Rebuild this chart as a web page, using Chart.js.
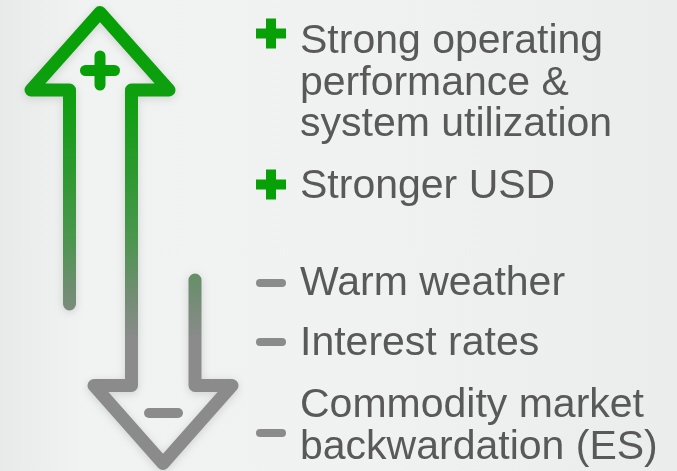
<!DOCTYPE html>
<html>
<head>
<meta charset="utf-8">
<style>
  html, body {
    margin: 0;
    padding: 0;
    width: 677px;
    height: 471px;
    overflow: hidden;
  }
  body {
    background: linear-gradient(90deg, #e8e9e9 0%, #f1f2f2 12%, #f0f1f1 55%, #ebecec 100%);
  }
  #chart-container {
    position: relative;
    width: 677px;
    height: 471px;
  }
</style>
</head>
<body>
<div id="chart-container">
  <canvas id="myChart" width="677" height="471"></canvas>
</div>

<script src="https://cdn.jsdelivr.net/npm/chart.js"></script>
<script>
  // drivers, each one is a list of text lines
  const positives = [
    ['Strong operating', 'performance &', 'system utilization'],
    ['Stronger USD']
  ];
  const negatives = [
    ['Warm weather'],
    ['Interest rates'],
    ['Commodity market', 'backwardation (ES)']
  ];

  // the double arrow, drawn as one polyline (up arrow -> down arrow)
  const arrowX = [69.5, 69.5, 31, 100, 169, 131.5, 131.5, 94, 163, 232, 195, 195];
  const arrowY = [304, 90, 90, 12.5, 90, 90, 385.5, 385.5, 463.5, 385.5, 385.5, 280];

  // layout of the text column
  const textX = 300;
  const markX = 271;
  const posBaselines = [53, 198];
  const negBaselines = [295, 355, 417];
  const posMarks = [33.5, 184.5];
  const negMarks = [283, 342, 433];
  const lineHeight = 41.5;

  const green = '#07a007';
  const gray = '#8b8b8b';
  const textColor = '#595959';

  function pts(xs, ys) {
    return xs.map((x, i) => ({ x: x, y: ys[i] }));
  }

  function segment(x1, y1, x2, y2, color, width, cap) {
    return {
      data: [{ x: x1, y: y1 }, { x: x2, y: y2 }],
      showLine: true,
      borderColor: color,
      borderWidth: width,
      borderCapStyle: cap || 'round',
      pointRadius: 0
    };
  }

  let arrowGradient = null;
  function arrowColor(context) {
    const chart = context.chart;
    if (!chart.chartArea) return gray;
    if (arrowGradient) return arrowGradient;
    const y = chart.scales.y;
    const top = y.getPixelForValue(0);
    const bottom = y.getPixelForValue(471);
    const g = chart.ctx.createLinearGradient(0, top, 0, bottom);
    const stop = v => (y.getPixelForValue(v) - top) / (bottom - top);
    g.addColorStop(0, '#04a004');
    g.addColorStop(stop(100), '#0f9f10');
    g.addColorStop(stop(170), '#2b992e');
    g.addColorStop(stop(240), '#4c964f');
    g.addColorStop(stop(290), '#6f8d71');
    g.addColorStop(stop(340), gray);
    g.addColorStop(1, gray);
    arrowGradient = g;
    return g;
  }

  const datasets = [];
  datasets.push({
    data: pts(arrowX, arrowY),
    showLine: true,
    borderColor: arrowColor,
    borderWidth: 13,
    borderJoinStyle: 'round',
    borderCapStyle: 'round',
    pointRadius: 0,
    tension: 0,
    shadow: true
  });
  // plus inside the up arrow, minus inside the down arrow
  datasets.push(segment(85.5, 70.5, 114.5, 70.5, green, 11));
  datasets.push(segment(100, 56, 100, 85, green, 11));
  datasets.push(segment(149, 413, 178, 413, gray, 10));

  // markers next to the text
  posMarks.forEach(m => {
    datasets.push(segment(markX - 10, m, markX + 10, m, green, 10, 'square'));
    datasets.push(segment(markX, m - 10, markX, m + 10, green, 10, 'square'));
  });
  negMarks.forEach(m => {
    datasets.push(segment(markX - 11, m, markX + 11, m, gray, 8));
  });

  const shadowPlugin = {
    id: 'arrowShadow',
    beforeDatasetDraw(chart, args) {
      const ds = chart.data.datasets[args.index];
      const c = chart.ctx;
      c.save();
      if (ds.shadow) {
        c.shadowColor = 'rgba(0,0,0,0.13)';
        c.shadowBlur = 9;
        c.shadowOffsetX = 0;
        c.shadowOffsetY = 2;
      }
    },
    afterDatasetDraw(chart) {
      chart.ctx.restore();
    }
  };

  const textPlugin = {
    id: 'driverText',
    afterDatasetsDraw(chart) {
      const c = chart.ctx;
      const x = chart.scales.x;
      const y = chart.scales.y;
      c.save();
      c.font = '41px "Liberation Sans", Arial, sans-serif';
      c.fillStyle = textColor;
      c.textAlign = 'left';
      c.textBaseline = 'alphabetic';
      const draw = (items, baselines) => {
        items.forEach((lines, i) => {
          lines.forEach((line, j) => {
            c.fillText(line, x.getPixelForValue(textX), y.getPixelForValue(baselines[i] + j * lineHeight));
          });
        });
      };
      draw(positives, posBaselines);
      draw(negatives, negBaselines);
      c.restore();
    }
  };

  new Chart(document.getElementById('myChart'), {
    type: 'scatter',
    data: { datasets: datasets },
    options: {
      responsive: false,
      animation: false,
      layout: { padding: 0 },
      scales: {
        x: { type: 'linear', min: 0, max: 677, display: false },
        y: { type: 'linear', min: 0, max: 471, reverse: true, display: false }
      },
      plugins: {
        legend: { display: false },
        tooltip: { enabled: false }
      }
    },
    plugins: [shadowPlugin, textPlugin]
  });
</script>
</body>
</html>
